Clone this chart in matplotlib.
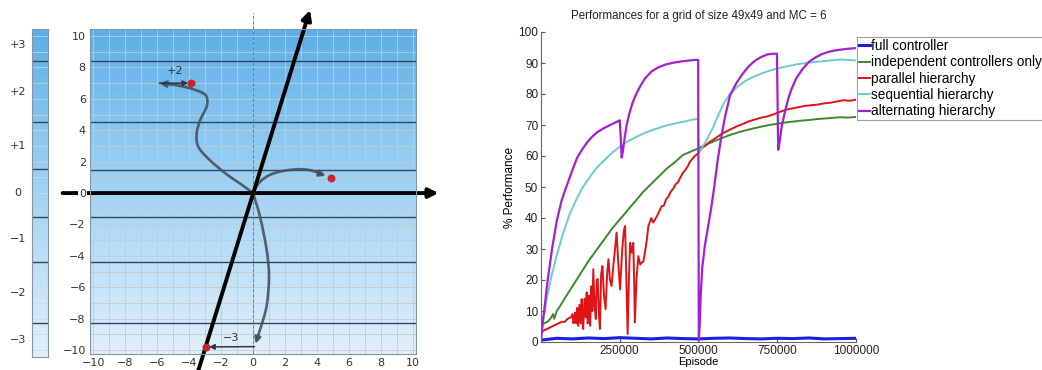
import matplotlib.pyplot as plt
import numpy as np
from matplotlib.colors import LinearSegmentedColormap
from matplotlib.patches import FancyArrowPatch
from matplotlib.path import Path

######### DADOS: painel da esquerda #########

band_edges = [-10.45, -8.3, -4.4, -1.5, 1.5, 4.5, 8.4, 10.45]
band_labels = ['−3', '−2', '−1', '0', '+1', '+2', '+3']
grid_ticks = list(range(-10, 11, 2))

# curva que sai da origem e vai pro alto à esquerda (termina em +2)
curve_up_x = [0, -0.8, -1.64, -2.7, -3.42, -3.52, -3.3, -2.9, -2.9, -3.3, -4.14, -5.0, -5.85]
curve_up_y = [0, 0.6, 1.19, 2.1, 2.95, 3.8, 4.65, 5.5, 6.14, 6.45, 6.73, 6.9, 7.0]

# curva pra direita
curve_right_x = [0, 0.44, 1.27, 2.52, 3.56, 4.55]
curve_right_y = [0, 0.72, 1.25, 1.5, 1.46, 1.1]

# curva pra baixo
curve_down_x = [0, 0.44, 0.85, 1.0, 0.85, 0.44, 0.15]
curve_down_y = [0, -1.5, -3.6, -5.3, -7.2, -8.7, -9.6]

# pontos vermelhos
red_x = [-3.85, 4.86, -2.96]
red_y = [7.0, 0.99, -9.83]

# reta inclinada (eixo girado)
tilt_x = [-3.45, 3.56]
tilt_y = [-11.4, 11.66]

######### DADOS: painel da direita #########

blue_ep = [0, 50, 100, 150, 200, 250, 300, 350, 400, 450, 500, 550, 600, 650, 700, 750, 800, 850, 900, 950, 1000]
blue_val = [0.6, 1.2, 1.0, 1.3, 1.1, 1.4, 1.2, 1.0, 1.3, 1.1, 1.0, 1.2, 1.3, 1.1, 1.0, 1.2, 1.1, 1.3, 1.0, 1.1, 1.2]

green_ep = [0, 10, 20, 30, 38, 42, 50, 60, 75, 100, 125, 150, 175, 200, 225, 250, 275, 300, 325, 350, 375,
            400, 425, 450, 475, 500, 525, 550, 575, 600, 625, 650, 675, 700, 725, 750, 775, 800, 825, 850,
            875, 900, 925, 950, 975, 1000]
green_val = [5, 6, 6.5, 7.5, 9, 7.5, 10, 11.5, 14, 18, 22, 26, 29.5, 33, 36.5, 39.5, 42.5, 45.5, 48.5, 51, 53.5,
             56, 58, 60.3, 61.4, 62.5, 63.7, 64.8, 65.8, 66.8, 67.6, 68.3, 68.9, 69.5, 70, 70.4, 70.8, 71.1, 71.4,
             71.6, 71.9, 72.1, 72.3, 72.5, 72.4, 72.6]

red_ep = [0, 5, 15, 25, 35, 45, 55, 65, 75, 85, 95, 100, 103, 105, 108, 112, 115, 118, 122, 126, 129, 132, 134,
          138, 142, 145, 148, 150, 153, 156, 160, 163, 166, 170, 174, 177, 180, 184, 187, 191, 195, 200, 205,
          210, 214, 219, 224, 230, 235, 240, 245, 251, 258, 263, 267, 271, 275, 279, 283, 288, 293, 296, 298,
          303, 309, 315, 320, 325, 330, 336, 341, 350, 356, 362, 370, 377, 383, 390, 397, 405, 412, 420, 428,
          435, 442, 450, 458, 465, 472, 480, 488, 495, 500, 510, 520, 535, 550, 565, 580, 600, 620, 640, 660,
          680, 700, 720, 740, 760, 780, 800, 820, 840, 860, 880, 900, 920, 940, 960, 980, 1000]
red_val = [2.5, 3.5, 4, 4.5, 5, 5.5, 6, 6.5, 6.5, 7.5, 8, 9, 6, 7, 9.5, 6, 11, 5.2, 12, 6, 13.8, 7, 4.2,
           14, 8, 16, 6, 7, 15, 5.2, 18, 10, 23.5, 12, 7.4, 20, 20.3, 9, 4.2, 22, 24.5, 15, 10.6,
           22, 26.7, 20, 18.1, 25, 30, 35.3, 26, 17, 30, 36, 37.4, 20, 2.6, 20, 32, 28.8, 32, 18, 6.3,
           20, 27.7, 25, 25.6, 26, 28.8, 33, 37.4, 40, 38.5, 39.5, 41, 42.5, 43.8, 44, 46, 47, 48.5, 49.5, 51,
           51.5, 53, 54.5, 55.5, 56.5, 58, 59, 60, 60.5, 61, 62.5, 63.2, 64.5, 65.5, 66.5, 67.5, 68.5, 69.5, 70.3,
           71.2, 71.8, 72.4, 72.8, 73.5, 74.3, 75, 75.4, 75.8, 76.2, 76.4, 76.6, 77, 77.2, 77.6, 78, 77.8, 78.2]

cyan_ep = [0, 5, 10, 20, 35, 50, 70, 90, 110, 130, 150, 175, 200, 225, 250, 275, 300, 330, 360, 390, 420, 450,
           475, 498, 500, 510, 525, 545, 560, 580, 600, 625, 650, 675, 700, 725, 750, 775, 800, 825, 850, 875,
           900, 925, 950, 975, 1000]
cyan_val = [1, 5, 9, 15, 22, 28, 35, 41, 45.5, 49.5, 52.5, 56, 58.5, 61, 63, 64.7, 66, 67.5, 68.6, 69.6, 70.4, 71,
            71.6, 72, 61, 62.5, 65, 69, 72.5, 77, 80, 82.5, 84.3, 85.6, 86.6, 87.5, 88.2, 88.8, 89.3, 89.8, 90.1,
            90.4, 90.6, 90.9, 91.1, 91.0, 90.8]

purple_ep = [0, 5, 10, 20, 35, 50, 65, 80, 100, 115, 130, 145, 160, 180, 200, 220, 240, 250, 253, 256, 260,
             265, 272, 280, 290, 300, 315, 330, 350, 370, 395, 420, 445, 470, 490, 499, 501, 504, 507, 512,
             520, 530, 540, 550, 560, 572, 585, 600, 620, 640, 660, 680, 700, 720, 740, 749, 753, 758, 765,
             775, 785, 795, 810, 830, 850, 870, 890, 910, 930, 950, 975, 1000]
purple_val = [0.5, 6, 10, 19, 30, 39, 45.5, 50, 55.5, 59.5, 62, 64.2, 66, 67.8, 69, 70, 71, 71.5, 66, 59.5, 61.5,
              65.5, 70, 73.5, 77, 79.5, 82.5, 85, 87.2, 88.5, 89.5, 90.1, 90.5, 90.8, 91, 91, 0.5, 6, 15, 24,
              31, 37, 43, 50, 58, 66, 73, 79.5, 83.5, 86.5, 89, 90.8, 92, 92.8, 93, 93, 62, 65, 70,
              74.5, 78.5, 81.5, 85, 88, 90.3, 91.7, 92.8, 93.5, 94, 94.3, 94.6, 94.8]

series_names = ['full controller', 'independent controllers only', 'parallel hierarchy',
                'sequential hierarchy', 'alternating hierarchy']


######### FUNÇÕES #########

def smooth_path(xs, ys):
    # catmull-rom virando bezier cúbica, só pra curva ficar redondinha
    pts = np.column_stack([xs, ys]).astype(float)
    verts = [pts[0]]
    codes = [Path.MOVETO]
    for i in range(len(pts) - 1):
        p0 = pts[max(i - 1, 0)]
        p1, p2 = pts[i], pts[i + 1]
        p3 = pts[min(i + 2, len(pts) - 1)]
        verts += [p1 + (p2 - p0) / 6, p2 - (p3 - p1) / 6, p2]
        codes += [Path.CURVE4] * 3
    return Path(verts, codes)


######### FIGURA #########

W, H = 1042, 370
fig = plt.figure(figsize=(W / 100, H / 100), dpi=100)
plt.rcParams['font.family'] = ['DejaVu Sans']

bg = LinearSegmentedColormap.from_list('bg', ['#e0f0fb', '#b8ddf6', '#8cc9f0', '#5caee6'])
grad = np.linspace(0, 1, 256).reshape(-1, 1)

# --- barra de cores ---
cax = fig.add_axes([32 / W, (H - 357) / H, 16 / W, 328 / H])
cax.imshow(grad, cmap=bg, origin='lower', extent=(0, 1, band_edges[0], band_edges[-1]), aspect='auto')
for yy in range(-10, 11):
    cax.axhline(yy, color='#c9dbe8', lw=0.5)
for yy in band_edges[1:-1]:
    cax.axhline(yy, color='#33475a', lw=1.0)
cax.set_xlim(0, 1)
cax.set_ylim(band_edges[0], band_edges[-1])
cax.set_xticks([])
cax.set_yticks([])
for s in cax.spines.values():
    s.set_color('#8595a3')
    s.set_linewidth(0.8)
for lo, hi, lab in zip(band_edges[:-1], band_edges[1:], band_labels):
    cax.text(-0.9, (lo + hi) / 2, lab, transform=cax.get_yaxis_transform(),
             ha='center', va='center', fontsize=8, color='#333333')

# --- painel com as curvas ---
ax = fig.add_axes([90 / W, (H - 354) / H, 326 / W, 325 / H])
ax.imshow(grad, cmap=bg, origin='lower', extent=(-10.19, 10.19, -10.25, 10.45), aspect='auto', zorder=0)
for v in range(-10, 11):
    ax.axvline(v, color='#c2ccd2', lw=0.6, zorder=0.5)
    ax.axhline(v, color='#c2ccd2', lw=0.6, zorder=0.5)
for yy in band_edges[1:-1]:
    ax.axhline(yy, color='#33475a', lw=1.0, zorder=0.8)
ax.set_xlim(-10.19, 10.19)
ax.set_ylim(-10.25, 10.45)
ax.set_axisbelow(False)
ax.set_xticks(grid_ticks)
ax.set_xticklabels([str(t).replace('-', '−') for t in grid_ticks])
ax.set_yticks(grid_ticks)
ylabs = ax.set_yticklabels([str(t).replace('-', '−') for t in grid_ticks])
ylabs[5].set_bbox(dict(facecolor='white', edgecolor='none', pad=1.0))
ax.tick_params(length=0, labelsize=8, labelcolor='#333333', pad=3)
for s in ax.spines.values():
    s.set_color('#8595a3')
    s.set_linewidth(0.8)

# linha tracejada no x=0
ax.plot([0, 0], [-10.25, 11.5], ls='--', lw=0.7, color='#6f7f8c', zorder=0.9, clip_on=False)

# eixos pretos com seta
ax.annotate('', xy=(11.6, 0), xytext=(-11.9, 0), annotation_clip=False, zorder=2,
            arrowprops=dict(arrowstyle='-|>', lw=2.8, color='black', mutation_scale=14, shrinkA=0, shrinkB=0))
ax.annotate('', xy=(tilt_x[1], tilt_y[1]), xytext=(tilt_x[0], tilt_y[0]), annotation_clip=False, zorder=2,
            arrowprops=dict(arrowstyle='-|>', lw=2.8, color='black', mutation_scale=14, shrinkA=0, shrinkB=0))

# as curvas cinzas
for cx, cy in [(curve_up_x, curve_up_y), (curve_right_x, curve_right_y), (curve_down_x, curve_down_y)]:
    arr = FancyArrowPatch(path=smooth_path(cx, cy), arrowstyle='-|>', mutation_scale=9,
                          color='#45525d', lw=1.9, alpha=0.9, zorder=1.5)
    ax.add_patch(arr)

# setinhas +2 e -3
ax.annotate('', xy=(-4.05, 7.0), xytext=(-5.85, 7.0), zorder=1.6,
            arrowprops=dict(arrowstyle='-|>', lw=1.1, color='#2c3843', mutation_scale=8, shrinkA=0, shrinkB=0))
ax.annotate('', xy=(-2.75, -9.8), xytext=(0.1, -9.78), zorder=1.6,
            arrowprops=dict(arrowstyle='-|>', lw=1.1, color='#2c3843', mutation_scale=8, shrinkA=0, shrinkB=0))
ax.text(-4.9, 7.75, '+2', ha='center', va='center', fontsize=8, color='#333333')
ax.text(-1.35, -9.25, '−3', ha='center', va='center', fontsize=8, color='#333333')

ax.scatter(red_x, red_y, s=22, color='#c8242c', zorder=2.2, clip_on=False)

# --- gráfico de desempenho ---
rx = fig.add_axes([541 / W, (H - 342) / H, 315 / W, 310 / H])
k = 1000
rx.plot(np.array(blue_ep) * k, blue_val, color='#1a1ee0', lw=2.2, label=series_names[0])
rx.plot(np.array(green_ep) * k, green_val, color='#3a8a2c', lw=1.4, label=series_names[1])
rx.plot(np.array(red_ep) * k, red_val, color='#e01414', lw=1.4, label=series_names[2])
rx.plot(np.array(cyan_ep) * k, cyan_val, color='#6ccccc', lw=1.4, label=series_names[3])
rx.plot(np.array(purple_ep) * k, purple_val, color='#a51fd2', lw=1.6, label=series_names[4])

rx.set_xlim(0, 1000000)
rx.set_ylim(0, 100)
rx.set_xticks([250000, 500000, 750000, 1000000])
rx.set_xticklabels(['250000', '500000', '750000', '1000000'])
rx.set_yticks(range(0, 101, 10))
rx.tick_params(direction='in', length=3, labelsize=8.5, labelcolor='#222222', color='#555555', pad=2)
for lab in rx.get_xticklabels() + rx.get_yticklabels():
    lab.set_family('Liberation Sans')
rx.spines['top'].set_visible(False)
rx.spines['right'].set_visible(False)
rx.spines['left'].set_color('#666666')
rx.spines['bottom'].set_color('#666666')
rx.set_title('Performances for a grid of size 49x49 and MC = 6', fontsize=8.3, family='Liberation Sans',
             color='#222222', pad=9)
rx.set_xlabel('Episode', fontsize=8, family='Liberation Sans', labelpad=0)
rx.set_ylabel('% Performance', fontsize=8.5, family='Liberation Sans', labelpad=2)

leg = rx.legend(loc='upper left', bbox_to_anchor=(857 / W, 1 - 37 / H), bbox_transform=fig.transFigure,
                prop={'family': 'Liberation Sans', 'size': 9.8}, frameon=True, fancybox=False,
                handlelength=0.8, handletextpad=0.1, labelspacing=0.17, borderpad=0.15, borderaxespad=0)
leg.get_frame().set_edgecolor('#888888')
leg.get_frame().set_linewidth(0.8)

plt.savefig('out.png', dpi=100)
